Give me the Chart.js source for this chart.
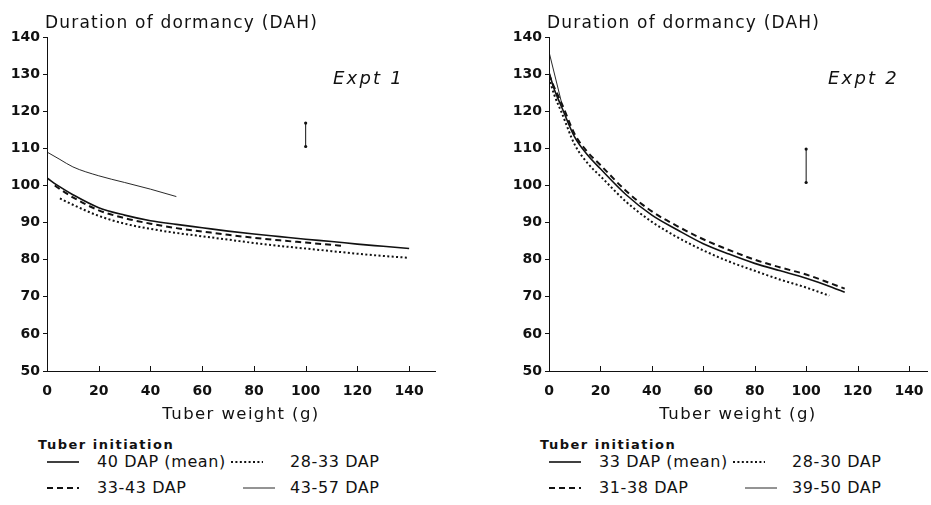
<!DOCTYPE html>
<html>
<head>
<meta charset="utf-8">
<title>Duration of dormancy vs tuber weight</title>
<script src="https://cdn.jsdelivr.net/npm/chart.js@4.4.1/dist/chart.umd.min.js"></script>
<style>
body { margin: 0; background: #fff; }
#wrap { position: relative; width: 931px; height: 505px; overflow: hidden; font-family: 'DejaVu Sans', sans-serif; color: #111; }
canvas { position: absolute; top: 0; }
#c1 { left: 0; }
#c2 { left: 465px; }
.lg { position: absolute; white-space: nowrap; height: 18px; line-height: 18px; }
.hd { font-size: 13px; font-weight: bold; letter-spacing: 1.5px; }
.it { font-size: 16px; letter-spacing: 0.6px; }
svg.s { position: absolute; overflow: visible; }
</style>
</head>
<body>
<div id="wrap">
    <canvas id="c1" width="465" height="430"></canvas>
    <canvas id="c2" width="466" height="430"></canvas>
</div>
<script>
// Achsenteilung
const xTickVals = [0, 20, 40, 60, 80, 100, 120, 140];

// Expt 1: Knollengewicht (g) -> Dormanz (DAH)
const e1MeanW = [0, 5, 10, 20, 30, 40, 50, 60, 70, 80, 90, 100, 110, 120, 130, 140];
const e1MeanD = [102, 99.6, 97.5, 94, 92, 90.5, 89.5, 88.6, 87.7, 86.9, 86.2, 85.5, 84.9, 84.2, 83.6, 83];
const e1EarlyW = [5, 10, 20, 30, 40, 50, 60, 70, 80, 90, 100, 110, 120, 130, 140];
const e1EarlyD = [96.5, 94.8, 91.8, 89.7, 88.3, 87.2, 86.3, 85.4, 84.5, 83.7, 83, 82.3, 81.6, 81, 80.5];
const e1MidW = [3, 5, 10, 20, 30, 40, 50, 60, 70, 80, 90, 100, 110, 115];
const e1MidD = [100, 99, 96.8, 93.3, 91.2, 89.7, 88.5, 87.6, 86.7, 85.9, 85.2, 84.6, 84, 83.7];
const e1LateW = [0, 5, 10, 20, 30, 40, 50];
const e1LateD = [109, 107, 105, 102.6, 100.8, 99, 97];
const e1ErrW = [100, 100];
const e1ErrD = [110.5, 116.8];
const e1Labels = ['40 DAP (mean)', '28-33 DAP', '33-43 DAP', '43-57 DAP'];

// Expt 2
const e2MeanW = [0, 2, 5, 10, 15, 20, 30, 40, 50, 60, 70, 80, 90, 100, 110, 115];
const e2MeanD = [130.5, 126, 121, 113, 108.2, 104.5, 97.5, 92, 88, 84.3, 81.5, 79, 77, 75, 72.6, 71.2];
const e2EarlyW = [0, 2, 5, 10, 15, 20, 30, 40, 50, 60, 70, 80, 90, 100, 109];
const e2EarlyD = [129, 124.5, 119.5, 111, 106, 102.5, 95.6, 90.2, 86, 82.5, 79.5, 77, 74.6, 72.5, 70.3];
const e2MidW = [0, 2, 5, 10, 15, 20, 30, 40, 50, 60, 70, 80, 90, 100, 110, 115];
const e2MidD = [130, 126.5, 122, 113.8, 109, 105.5, 98.5, 93, 89, 85.5, 82.6, 80, 77.9, 76, 73.5, 72.2];
const e2LateW = [0, 5];
const e2LateD = [136, 122];
const e2ErrW = [100, 100];
const e2ErrD = [100.8, 109.8];
const e2Labels = ['33 DAP (mean)', '28-30 DAP', '31-38 DAP', '39-50 DAP'];

const ink = '#111';
const font = 'DejaVu Sans';

// Linienstile: mean, early (dotted), mid (dashed), late (thin)
const styles = [
    { borderWidth: 1.6, borderDash: [] },
    { borderWidth: 2, borderDash: [2, 2.4] },
    { borderWidth: 2, borderDash: [6, 4] },
    { borderWidth: 0.9, borderDash: [] }
];

function pts(xs, ys) {
    return xs.map((x, i) => ({ x: x, y: ys[i] }));
}

function series(xs, ys, st) {
    return {
        data: pts(xs, ys),
        borderColor: ink,
        borderWidth: st.borderWidth,
        borderDash: st.borderDash,
        pointRadius: 0,
        fill: false,
        cubicInterpolationMode: 'monotone'
    };
}

function errBar(xs, ys) {
    return {
        data: pts(xs, ys),
        borderColor: ink,
        backgroundColor: ink,
        borderWidth: 1,
        pointRadius: 1.6,
        pointBorderWidth: 0
    };
}

function drawSpaced(ctx, text, x, y, spacing, fnt, align) {
    ctx.save();
    ctx.font = fnt;
    ctx.letterSpacing = spacing;
    ctx.fillStyle = ink;
    ctx.textAlign = align || 'left';
    ctx.textBaseline = 'alphabetic';
    ctx.fillText(text, x, y);
    ctx.restore();
}

const overlay = {
    id: 'overlay',
    afterDraw(chart, args, opts) {
        const ctx = chart.ctx;
        const area = chart.chartArea;
        const xs = chart.scales.x;
        // Achsentitel
        drawSpaced(ctx, 'Duration of dormancy (DAH)', area.left - 2, 28, '1.2px', '17px "DejaVu Sans"');
        drawSpaced(ctx, 'Tuber weight (g)', (area.left + area.right) / 2, 419, '1.4px', '16.5px "DejaVu Sans"', 'center');
        drawSpaced(ctx, opts.expt, opts.exptX, 84, '2.2px', 'italic 18px "DejaVu Sans"');
        // Tick-Striche nach innen
        ctx.save();
        ctx.strokeStyle = ink;
        ctx.lineWidth = 1;
        xs.ticks.forEach(t => {
            const px = Math.round(xs.getPixelForValue(t.value)) + 0.5;
            ctx.beginPath();
            ctx.moveTo(px, area.bottom);
            ctx.lineTo(px, area.bottom - 5);
            ctx.stroke();
        });
        ctx.restore();
    }
};

function makeChart(id, sets, xMax, yWidth, padRight, expt, exptX) {
    return new Chart(document.getElementById(id), {
        type: 'line',
        data: { datasets: sets },
        options: {
            responsive: false,
            animation: false,
            layout: { padding: { top: 37, right: padRight, left: 0, bottom: 0 } },
            plugins: {
                legend: { display: false },
                tooltip: { enabled: false },
                overlay: { expt: expt, exptX: exptX }
            },
            scales: {
                x: {
                    type: 'linear',
                    min: 0,
                    max: xMax,
                    afterBuildTicks: s => { s.ticks = xTickVals.map(v => ({ value: v })); },
                    afterFit: s => { s.height = 59; },
                    ticks: { autoSkip: false, maxRotation: 0, padding: 4, color: ink, font: { family: font, size: 14, weight: 'bold' } },
                    grid: { display: false },
                    border: { display: true, color: ink, width: 1 }
                },
                y: {
                    min: 50,
                    max: 140,
                    afterFit: s => { s.width = yWidth; },
                    ticks: { stepSize: 10, padding: 3, color: ink, font: { family: font, size: 14, weight: 'bold' } },
                    grid: { drawOnChartArea: false, drawTicks: true, tickLength: 4, color: ink },
                    border: { display: true, color: ink, width: 1 }
                }
            }
        },
        plugins: [overlay]
    });
}

function buildLegend(left, labels) {
    const wrap = document.getElementById('wrap');
    const head = document.createElement('div');
    head.className = 'lg hd';
    head.style.left = (left - 9) + 'px';
    head.style.top = (445 - 9) + 'px';
    head.textContent = 'Tuber initiation';
    wrap.appendChild(head);
    const rows = [
        { x1: left, x2: left + 32, tx: left + 50, y: 462, st: styles[0], lab: labels[0] },
        { x1: left + 184, x2: left + 216, tx: left + 243, y: 462, st: styles[1], lab: labels[1] },
        { x1: left, x2: left + 32, tx: left + 50, y: 488, st: styles[2], lab: labels[2] },
        { x1: left + 196, x2: left + 228, tx: left + 243, y: 488, st: styles[3], lab: labels[3] }
    ];
    rows.forEach(r => {
        const d = document.createElement('div');
        d.className = 'lg it';
        d.style.left = r.tx + 'px';
        d.style.top = (r.y - 9) + 'px';
        d.textContent = r.lab;
        wrap.appendChild(d);
        const ns = 'http://www.w3.org/2000/svg';
        const svg = document.createElementNS(ns, 'svg');
        svg.setAttribute('class', 's');
        svg.setAttribute('width', r.x2 - r.x1);
        svg.setAttribute('height', 4);
        svg.style.left = r.x1 + 'px';
        svg.style.top = (r.y - 2) + 'px';
        const ln = document.createElementNS(ns, 'line');
        ln.setAttribute('x1', 0);
        ln.setAttribute('x2', r.x2 - r.x1);
        ln.setAttribute('y1', 2);
        ln.setAttribute('y2', 2);
        ln.setAttribute('stroke', ink);
        ln.setAttribute('stroke-width', r.st.borderWidth);
        if (r.st.borderDash.length) ln.setAttribute('stroke-dasharray', r.st.borderDash.join(' '));
        svg.appendChild(ln);
        wrap.appendChild(svg);
    });
}

makeChart('c1', [
    series(e1MeanW, e1MeanD, styles[0]),
    series(e1EarlyW, e1EarlyD, styles[1]),
    series(e1MidW, e1MidD, styles[2]),
    series(e1LateW, e1LateD, styles[3]),
    errBar(e1ErrW, e1ErrD)
], 150, 47, 30, 'Expt 1', 333);

makeChart('c2', [
    series(e2MeanW, e2MeanD, styles[0]),
    series(e2EarlyW, e2EarlyD, styles[1]),
    series(e2MidW, e2MidD, styles[2]),
    series(e2LateW, e2LateD, styles[3]),
    errBar(e2ErrW, e2ErrD)
], 147, 84, 0, 'Expt 2', 363);

buildLegend(47, e1Labels);
buildLegend(549, e2Labels);
</script>
</body>
</html>
